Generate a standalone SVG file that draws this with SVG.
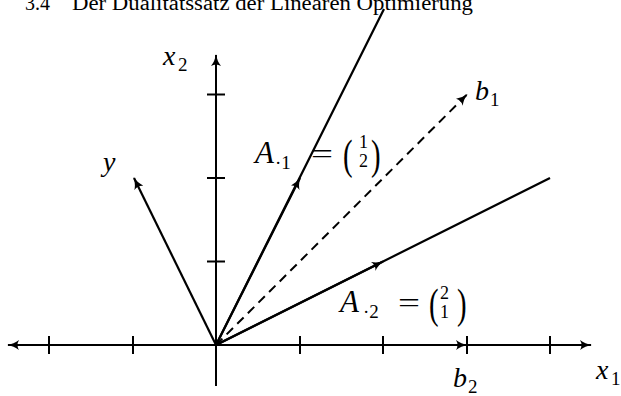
<svg xmlns="http://www.w3.org/2000/svg" width="621" height="396" viewBox="0 0 621 396">
<defs>
<marker id="ah" viewBox="0 0 12 10" refX="11" refY="5" markerWidth="12" markerHeight="10" markerUnits="userSpaceOnUse" orient="auto-start-reverse">
<path d="M0,0 Q5,4 12,5 Q5,6 0,10 Q3,5 0,0 Z" fill="#000"/>
</marker>
</defs>
<style>
.ax{stroke:#000;stroke-width:2;fill:none}
.v{stroke:#000;stroke-width:2.2;fill:none}
.d{stroke:#000;stroke-width:2;fill:none;stroke-dasharray:9 6}
.m{font-family:"Liberation Serif",serif;font-style:italic;font-size:28px;fill:#000}
.big{font-size:31px}
.r{font-family:"Liberation Serif",serif;font-size:27px;fill:#000}
.s{font-family:"Liberation Serif",serif;font-size:19px;fill:#000}
.n{font-family:"Liberation Serif",serif;font-size:18px;fill:#000}
.p{font-family:"Liberation Serif",serif;font-size:36px;fill:#000}
.h{font-family:"Liberation Serif",serif;font-size:20px;fill:#000}
</style>
<text class="h" x="25" y="10">3.4</text>
<text class="h" x="72" y="10" textLength="401" lengthAdjust="spacingAndGlyphs">Der Dualitätssatz der Linearen Optimierung</text>
<g id="connectors">
<line id="x1-axis" class="ax" x1="8" y1="345" x2="591" y2="345" marker-start="url(#ah)" marker-end="url(#ah)"/>
<line id="x2-axis" class="ax" x1="216" y1="386" x2="216" y2="55" marker-end="url(#ah)"/>
<g id="ticks" class="ax">
<line x1="49" y1="336" x2="49" y2="354"/>
<line x1="133" y1="336" x2="133" y2="354"/>
<line x1="300" y1="336" x2="300" y2="354"/>
<line x1="383" y1="336" x2="383" y2="354"/>
<line x1="467" y1="336" x2="467" y2="354"/>
<line x1="550" y1="336" x2="550" y2="354"/>
<line x1="207" y1="261.5" x2="225" y2="261.5"/>
<line x1="207" y1="178" x2="225" y2="178"/>
<line x1="207" y1="94.5" x2="225" y2="94.5"/>
</g>
<line id="a1-ray" class="v" x1="216" y1="345" x2="384" y2="9"/>
<line id="a1-vec" class="v" x1="216" y1="345" x2="300" y2="178" marker-end="url(#ah)"/>
<line id="a2-ray" class="v" x1="216" y1="345" x2="550" y2="178"/>
<line id="a2-vec" class="v" x1="216" y1="345" x2="383" y2="261.5" marker-end="url(#ah)"/>
<line id="y-vec" class="v" x1="216" y1="345" x2="134" y2="178" marker-end="url(#ah)"/>
<line id="b1-vec" class="d" x1="216" y1="345" x2="467" y2="94.5" marker-end="url(#ah)"/>
<line id="b2-vec" class="d" x1="216" y1="345" x2="467" y2="345" marker-end="url(#ah)"/>
</g>
<g id="label-x2"><text class="m" x="163" y="65">x</text><text class="s" x="178" y="71">2</text></g>
<g id="label-x1"><text class="m" x="596" y="379">x</text><text class="s" x="611" y="385">1</text></g>
<g id="label-y"><text class="m" x="103" y="171">y</text></g>
<g id="label-b1"><text class="m" x="475" y="100">b</text><text class="s" x="490" y="106">1</text></g>
<g id="label-b2"><text class="m" x="453" y="387">b</text><text class="s" x="468" y="393">2</text></g>
<g id="label-a1">
<text class="m big" x="255" y="163">A</text>
<text class="s" x="275" y="169">·1</text>
<text class="r" x="311" y="163" textLength="22" lengthAdjust="spacingAndGlyphs">=</text>
<text class="p" x="343" y="167" transform="translate(343 158) scale(0.8 1.2) translate(-343 -158)">(</text>
<text class="n" x="359" y="148">1</text>
<text class="n" x="359" y="167">2</text>
<text class="p" x="371" y="167" transform="translate(371 158) scale(0.8 1.2) translate(-371 -158)">)</text>
</g>
<g id="label-a2">
<text class="m big" x="340" y="312">A</text>
<text class="s" x="363" y="318">·2</text>
<text class="r" x="398" y="312" textLength="22" lengthAdjust="spacingAndGlyphs">=</text>
<text class="p" x="429" y="316" transform="translate(429 307) scale(0.8 1.2) translate(-429 -307)">(</text>
<text class="n" x="440" y="299">2</text>
<text class="n" x="440" y="318">1</text>
<text class="p" x="457" y="316" transform="translate(457 307) scale(0.8 1.2) translate(-457 -307)">)</text>
</g>
</svg>
